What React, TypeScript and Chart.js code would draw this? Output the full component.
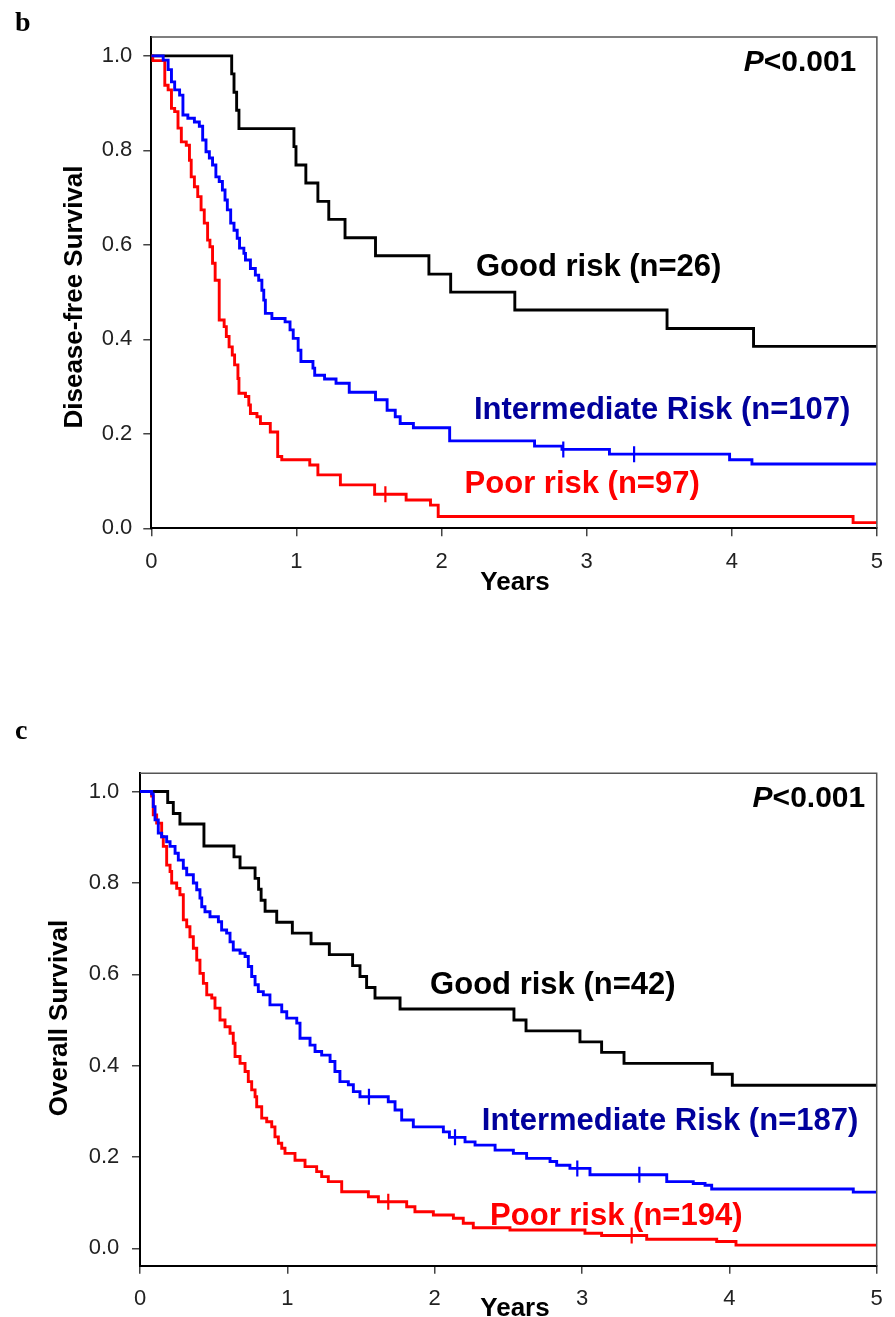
import React, { useEffect, useRef } from 'react';
import { Chart, registerables } from 'chart.js';

Chart.register(...registerables);

const FONT = "'Liberation Sans', Arial, Helvetica, sans-serif";
const SERIF = "'Liberation Serif', 'Times New Roman', serif";

// ---------- axes ----------
const xTicks = [0, 1, 2, 3, 4, 5];
const yTicks = [0, 0.2, 0.4, 0.6, 0.8, 1.0];

// ---------- panel b : disease-free survival ----------
const dfsGoodT = [0, 0.554, 0.57, 0.588, 0.604, 0.983, 0.997, 1.065, 1.148, 1.223, 1.335, 1.545, 1.913, 2.063, 2.505, 3.554, 4.15, 5];
const dfsGoodS = [1, 0.962, 0.923, 0.885, 0.846, 0.808, 0.769, 0.731, 0.692, 0.654, 0.615, 0.577, 0.538, 0.5, 0.462, 0.423, 0.385, 0.385];

const dfsIntT = [0, 0.082, 0.116, 0.139, 0.161, 0.195, 0.218, 0.252, 0.297, 0.331, 0.354, 0.377, 0.4, 0.422, 0.445, 0.468, 0.49, 0.508, 0.524, 0.547, 0.57, 0.592, 0.608, 0.638, 0.649, 0.683, 0.717, 0.74, 0.762, 0.775, 0.786, 0.831, 0.922, 0.956, 0.978, 1.012, 1.031, 1.114, 1.126, 1.194, 1.273, 1.364, 1.545, 1.625, 1.681, 1.715, 1.806, 2.056, 2.641, 2.83, 3.157, 3.985, 4.139, 5];
const dfsIntS = [1, 0.991, 0.971, 0.945, 0.928, 0.917, 0.875, 0.868, 0.86, 0.851, 0.822, 0.797, 0.784, 0.769, 0.744, 0.734, 0.716, 0.695, 0.674, 0.646, 0.631, 0.614, 0.593, 0.582, 0.568, 0.55, 0.536, 0.525, 0.504, 0.483, 0.455, 0.444, 0.437, 0.42, 0.402, 0.377, 0.353, 0.339, 0.324, 0.316, 0.307, 0.288, 0.272, 0.25, 0.236, 0.222, 0.213, 0.185, 0.174, 0.167, 0.157, 0.145, 0.136, 0.136];

const dfsPoorT = [0, 0.01, 0.093, 0.116, 0.139, 0.161, 0.184, 0.207, 0.241, 0.263, 0.275, 0.297, 0.32, 0.343, 0.365, 0.388, 0.404, 0.422, 0.44, 0.468, 0.502, 0.517, 0.536, 0.558, 0.574, 0.597, 0.604, 0.649, 0.672, 0.683, 0.728, 0.752, 0.82, 0.871, 0.899, 1.092, 1.148, 1.303, 1.539, 1.756, 1.924, 1.977, 4.836, 5];
const dfsPoorS = [1, 0.99, 0.938, 0.928, 0.889, 0.882, 0.847, 0.818, 0.811, 0.779, 0.744, 0.723, 0.702, 0.674, 0.646, 0.61, 0.596, 0.561, 0.525, 0.441, 0.427, 0.406, 0.384, 0.367, 0.346, 0.317, 0.286, 0.279, 0.261, 0.243, 0.236, 0.222, 0.204, 0.152, 0.145, 0.134, 0.113, 0.092, 0.072, 0.06, 0.049, 0.025, 0.012, 0.012];

const dfsIntCensorT = [2.839, 3.327];
const dfsIntCensorS = [0.167, 0.157];
const dfsPoorCensorT = [1.613];
const dfsPoorCensorS = [0.072];

const dfsLabels = ['Good risk (n=26)', 'Intermediate Risk (n=107)', 'Poor risk (n=97)'];
const dfsLabelX = [2.237, 2.223, 2.159];
const dfsLabelY = [0.535, 0.232, 0.074];

// ---------- panel c : overall survival ----------
const osGoodT = [0, 0.188, 0.226, 0.271, 0.434, 0.638, 0.679, 0.781, 0.805, 0.822, 0.849, 0.928, 1.034, 1.161, 1.285, 1.443, 1.493, 1.538, 1.595, 1.765, 2.538, 2.62, 2.986, 3.133, 3.285, 3.884, 4.02, 5];
const osGoodS = [1, 0.976, 0.952, 0.929, 0.881, 0.857, 0.833, 0.81, 0.786, 0.762, 0.738, 0.714, 0.69, 0.667, 0.643, 0.619, 0.595, 0.571, 0.548, 0.524, 0.5, 0.476, 0.452, 0.429, 0.405, 0.381, 0.357, 0.357];

const osIntT = [0, 0.079, 0.09, 0.102, 0.124, 0.147, 0.181, 0.204, 0.238, 0.26, 0.294, 0.317, 0.362, 0.385, 0.407, 0.419, 0.441, 0.475, 0.532, 0.554, 0.588, 0.611, 0.633, 0.679, 0.713, 0.735, 0.758, 0.781, 0.803, 0.837, 0.882, 0.962, 0.996, 1.064, 1.086, 1.154, 1.188, 1.233, 1.29, 1.323, 1.357, 1.414, 1.448, 1.493, 1.685, 1.731, 1.776, 1.855, 2.059, 2.1, 2.206, 2.274, 2.41, 2.534, 2.624, 2.783, 2.828, 2.918, 3.054, 3.575, 3.755, 3.835, 3.88, 4.841, 5];
const osIntS = [1, 0.995, 0.967, 0.938, 0.909, 0.901, 0.89, 0.88, 0.865, 0.85, 0.832, 0.818, 0.8, 0.785, 0.767, 0.748, 0.737, 0.726, 0.715, 0.697, 0.69, 0.671, 0.653, 0.646, 0.639, 0.617, 0.595, 0.577, 0.562, 0.555, 0.533, 0.518, 0.504, 0.493, 0.46, 0.445, 0.431, 0.423, 0.409, 0.387, 0.365, 0.358, 0.343, 0.332, 0.321, 0.303, 0.281, 0.266, 0.255, 0.243, 0.233, 0.226, 0.215, 0.208, 0.197, 0.19, 0.182, 0.175, 0.161, 0.146, 0.142, 0.138, 0.13, 0.123, 0.123];

const osPoorT = [0, 0.079, 0.09, 0.113, 0.147, 0.158, 0.181, 0.204, 0.215, 0.249, 0.271, 0.294, 0.317, 0.339, 0.362, 0.385, 0.407, 0.43, 0.453, 0.487, 0.509, 0.543, 0.577, 0.611, 0.633, 0.645, 0.679, 0.713, 0.735, 0.758, 0.781, 0.792, 0.826, 0.86, 0.894, 0.916, 0.939, 0.962, 0.984, 1.052, 1.12, 1.199, 1.233, 1.278, 1.369, 1.55, 1.618, 1.81, 1.866, 1.991, 2.127, 2.194, 2.262, 2.511, 3.02, 3.133, 3.439, 3.914, 4.045, 5];
const osPoorS = [1, 0.99, 0.949, 0.931, 0.901, 0.88, 0.839, 0.825, 0.8, 0.788, 0.774, 0.719, 0.704, 0.682, 0.657, 0.631, 0.602, 0.58, 0.555, 0.548, 0.526, 0.5, 0.485, 0.471, 0.449, 0.42, 0.405, 0.387, 0.365, 0.347, 0.332, 0.31, 0.285, 0.277, 0.266, 0.244, 0.23, 0.219, 0.208, 0.193, 0.179, 0.168, 0.157, 0.146, 0.124, 0.113, 0.102, 0.091, 0.08, 0.073, 0.066, 0.055, 0.045, 0.04, 0.033, 0.028, 0.02, 0.015, 0.007, 0.007];

const osIntCensorT = [1.554, 2.138, 2.968, 3.389];
const osIntCensorS = [0.332, 0.243, 0.175, 0.161];
const osPoorCensorT = [1.685, 3.337];
const osPoorCensorS = [0.102, 0.028];

const osLabels = ['Good risk (n=42)', 'Intermediate Risk (n=187)', 'Poor risk (n=194)'];
const osLabelX = [1.969, 2.32, 2.376];
const osLabelY = [0.557, 0.259, 0.051];

// ---------- styling ----------
const lineColors = ['#000000', '#0000FF', '#FF0000'];
const labelColors = ['#000000', '#00009C', '#FF0000'];

const pts = (t: number[], s: number[]) => t.map((v, i) => ({ x: v, y: s[i] }));

interface Spec {
  letter: string;
  letterY: number;
  yTitle: string;
  yTitleX: number;
  yTitleY: number;
  yearsX: number;
  yearsY: number;
  yMin: number;
  yMax: number;
  axisWidth: number;
  padTop: number;
  padRight: number;
  padBottom: number;
  tickPadY: number;
  curves: { t: number[]; s: number[] }[];
  censors: { t: number[]; s: number[]; color: string }[];
  labels: string[];
  labelX: number[];
  labelY: number[];
  pX: number;
  pY: number;
}

const dfsSpec: Spec = {
  letter: 'b',
  letterY: 30.5,
  yTitle: 'Disease-free Survival',
  yTitleX: 81.5,
  yTitleY: 297,
  yearsX: 515,
  yearsY: 589.5,
  yMin: 0,
  yMax: 1.04,
  axisWidth: 151.3,
  padTop: 37,
  padRight: 9,
  padBottom: 126.7,
  tickPadY: 11,
  curves: [
    { t: dfsIntT, s: dfsIntS },
    { t: dfsPoorT, s: dfsPoorS },
    { t: dfsGoodT, s: dfsGoodS },
  ],
  censors: [
    { t: dfsIntCensorT, s: dfsIntCensorS, color: lineColors[1] },
    { t: dfsPoorCensorT, s: dfsPoorCensorS, color: lineColors[2] },
  ],
  labels: dfsLabels,
  labelX: dfsLabelX,
  labelY: dfsLabelY,
  pX: 4.858,
  pY: 0.969,
};

const osSpec: Spec = {
  letter: 'c',
  letterY: 38.5,
  yTitle: 'Overall Survival',
  yTitleX: 67,
  yTitleY: 318,
  yearsX: 515,
  yearsY: 616,
  yMin: -0.038,
  yMax: 1.04,
  axisWidth: 140,
  padTop: 73.3,
  padRight: 18.3,
  padBottom: 6.3,
  tickPadY: 12.7,
  curves: [
    { t: osIntT, s: osIntS },
    { t: osPoorT, s: osPoorS },
    { t: osGoodT, s: osGoodS },
  ],
  censors: [
    { t: osIntCensorT, s: osIntCensorS, color: lineColors[1] },
    { t: osPoorCensorT, s: osPoorCensorS, color: lineColors[2] },
  ],
  labels: osLabels,
  labelX: osLabelX,
  labelY: osLabelY,
  pX: 4.922,
  pY: 0.967,
};

const curveColorOrder = [lineColors[1], lineColors[2], lineColors[0]];

function makeConfig(spec: Spec): any {
  const datasets: any[] = [];
  spec.censors.forEach((c) => {
    datasets.push({
      type: 'line',
      data: pts(c.t, c.s),
      showLine: false,
      pointStyle: 'line',
      pointRotation: 90,
      pointRadius: 8,
      pointHoverRadius: 8,
      pointBorderColor: c.color,
      pointBorderWidth: 2.2,
      borderColor: c.color,
    });
  });
  spec.curves.forEach((c, i) => {
    datasets.push({
      type: 'line',
      data: pts(c.t, c.s),
      borderColor: curveColorOrder[i],
      borderWidth: 2.9,
      pointRadius: 0,
      stepped: true,
      fill: false,
      tension: 0,
    });
  });

  const annot = {
    id: 'annot',
    afterDraw(chart: any) {
      const { ctx, chartArea: a } = chart;
      const xs = chart.scales.x;
      const ys = chart.scales.y;
      ctx.save();
      // top & right frame
      ctx.strokeStyle = '#555';
      ctx.lineWidth = 1.5;
      ctx.beginPath();
      ctx.moveTo(a.left, a.top);
      ctx.lineTo(a.right, a.top);
      ctx.lineTo(a.right, a.bottom);
      ctx.stroke();

      // group labels
      ctx.textBaseline = 'alphabetic';
      ctx.textAlign = 'left';
      ctx.font = `bold 31px ${FONT}`;
      spec.labels.forEach((txt, i) => {
        ctx.fillStyle = labelColors[i];
        ctx.fillText(txt, xs.getPixelForValue(spec.labelX[i]), ys.getPixelForValue(spec.labelY[i]));
      });

      // P value
      ctx.fillStyle = '#000';
      const px = xs.getPixelForValue(spec.pX);
      const py = ys.getPixelForValue(spec.pY);
      ctx.font = `bold 30px ${FONT}`;
      ctx.textAlign = 'right';
      const rest = '<0.001';
      const w = ctx.measureText(rest).width;
      ctx.fillText(rest, px, py);
      ctx.font = `italic bold 30px ${FONT}`;
      ctx.fillText('P', px - w, py);

      // x title
      ctx.font = `bold 26px ${FONT}`;
      ctx.textAlign = 'center';
      ctx.fillText('Years', spec.yearsX, spec.yearsY);

      // y title
      ctx.save();
      ctx.translate(spec.yTitleX, spec.yTitleY);
      ctx.rotate(-Math.PI / 2);
      ctx.textAlign = 'center';
      ctx.fillText(spec.yTitle, 0, 0);
      ctx.restore();

      // panel letter
      ctx.font = `bold 28px ${SERIF}`;
      ctx.textAlign = 'left';
      ctx.fillText(spec.letter, 15, spec.letterY);
      ctx.restore();
    },
  };

  return {
    type: 'line',
    data: { datasets },
    plugins: [annot],
    options: {
      animation: false,
      responsive: false,
      maintainAspectRatio: false,
      devicePixelRatio: 1,
      events: [],
      layout: {
        padding: { left: 0, top: spec.padTop, right: spec.padRight, bottom: spec.padBottom },
      },
      plugins: {
        legend: { display: false },
        tooltip: { enabled: false },
        title: { display: false },
      },
      scales: {
        x: {
          type: 'linear',
          min: 0,
          max: 5,
          afterBuildTicks: (s: any) => {
            s.ticks = xTicks.map((v) => ({ value: v }));
          },
          afterFit: (s: any) => {
            s.height = 45;
          },
          grid: {
            display: true,
            drawOnChartArea: false,
            drawTicks: true,
            tickLength: 8,
            color: '#444',
            lineWidth: 1.5,
          },
          border: { display: true, color: '#000', width: 2 },
          ticks: {
            font: { family: FONT, size: 22 },
            color: '#222',
            padding: 12,
            maxRotation: 0,
            autoSkip: false,
            callback: (v: any) => String(v),
          },
        },
        y: {
          type: 'linear',
          min: spec.yMin,
          max: spec.yMax,
          afterBuildTicks: (s: any) => {
            s.ticks = yTicks.map((v) => ({ value: v }));
          },
          afterFit: (s: any) => {
            s.width = spec.axisWidth;
          },
          grid: {
            display: true,
            drawOnChartArea: false,
            drawTicks: true,
            tickLength: 8,
            color: '#444',
            lineWidth: 1.5,
          },
          border: { display: true, color: '#000', width: 2 },
          ticks: {
            font: { family: FONT, size: 22 },
            color: '#222',
            padding: spec.tickPadY,
            autoSkip: false,
            callback: (v: any) => Number(v).toFixed(1),
          },
        },
      },
    },
  };
}

function Panel({ spec, top, height }: { spec: Spec; top: number; height: number }) {
  const ref = useRef<HTMLCanvasElement>(null);
  useEffect(() => {
    if (!ref.current) return;
    const chart = new Chart(ref.current, makeConfig(spec));
    return () => chart.destroy();
  }, [spec]);
  return (
    <canvas
      ref={ref}
      width={895}
      height={height}
      style={{ position: 'absolute', left: 0, top, width: 895, height, display: 'block' }}
    />
  );
}

export default function App() {
  return (
    <div
      style={{
        position: 'absolute',
        left: 0,
        top: 0,
        width: 895,
        height: 1317,
        overflow: 'hidden',
        background: '#fff',
      }}
    >
      <Panel spec={dfsSpec} top={0} height={700} />
      <Panel spec={osSpec} top={700} height={617} />
    </div>
  );
}
